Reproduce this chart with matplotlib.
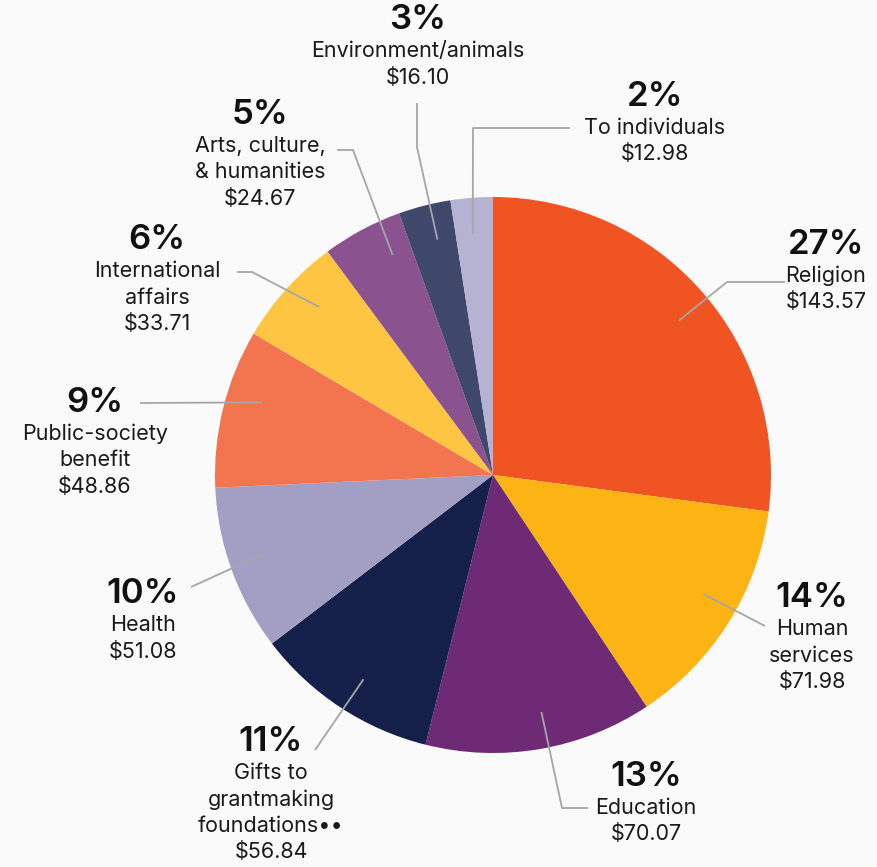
import numpy as np
import matplotlib.pyplot as plt

# ---- data (billions of dollars) ----
categories = ["Religion", "Human\nservices", "Education",
              "Gifts to\ngrantmaking\nfoundations\u2022\u2022", "Health",
              "Public-society\nbenefit", "International\naffairs",
              "Arts, culture,\n& humanities", "Environment/animals",
              "To individuals"]
amounts = [143.57, 71.98, 70.07, 56.84, 51.08, 48.86, 33.71, 24.67, 16.10, 12.98]
colors = ["#F05423", "#FCB415", "#6E2A74", "#141F4A", "#A39FC4",
          "#F37550", "#FEC543", "#8A528F", "#3F486B", "#B6B3D2"]

# ---- layout in pixel coords (x, y from top) ----
W, H = 877, 867
center = (493, 475)
radius = 278
# label block centre (x, y of percent line) and leader elbow points
label_pos = [(826, 245), (812, 598), (646, 777), (271, 742), (143, 594),
             (95, 403), (157, 240), (260, 115), (418, 20), (655, 97)]
leader_pts = [
    [(727, 282), (785, 282)],
    [(765, 626)],
    [(562, 808), (588, 808)],
    [(315, 750)],
    [(191, 587)],
    [(140, 403)],
    [(252, 272), (237, 272)],
    [(353, 150), (337, 150)],
    [(417, 147), (417, 103)],
    [(473, 128), (570, 128)],
]
tip_offset = [-1.5, 2.5, 1.8, 1.0, -1.0, -3.5, -2.0, -3.6, -1.0, 0.4]


def py(y):
    return H - y


fig = plt.figure(figsize=(W / 100, H / 100), dpi=100)
fig.patch.set_facecolor("#FAFAFA")
ax = fig.add_axes([0, 0, 1, 1])

wedges, _ = ax.pie(amounts, colors=colors, startangle=90, counterclock=False,
                   center=(center[0], py(center[1])), radius=radius,
                   wedgeprops=dict(linewidth=0), frame=True)
ax.set_xlim(0, W)
ax.set_ylim(0, H)
ax.set_aspect("equal")
ax.axis("off")

total = sum(amounts)
font = "Inter"
for w, cat, amt, (lx, ly), pts, off in zip(wedges, categories, amounts,
                                           label_pos, leader_pts, tip_offset):
    mid = np.deg2rad((w.theta1 + w.theta2) / 2 + off)
    tip = (center[0] + 0.87 * radius * np.cos(mid),
           py(center[1]) + 0.87 * radius * np.sin(mid))
    xs = [tip[0]] + [p[0] for p in pts]
    ys = [tip[1]] + [py(p[1]) for p in pts]
    ax.plot(xs, ys, color="#A6A6A6", lw=1.3, solid_capstyle="butt")

    pct = round(amt / total * 100)
    ax.text(lx, py(ly), f"{pct}%", ha="center", va="center", fontsize=25,
            fontweight="semibold", family=font, color="#111111")
    lines = cat.split("\n") + [f"${amt:.2f}"]
    for i, line in enumerate(lines):
        ax.text(lx, py(ly + 31 + i * 26.5), line, ha="center", va="center",
                fontsize=15.5, family=font, color="#1A1A1A")

fig.savefig("out.png", dpi=100, facecolor=fig.get_facecolor())
